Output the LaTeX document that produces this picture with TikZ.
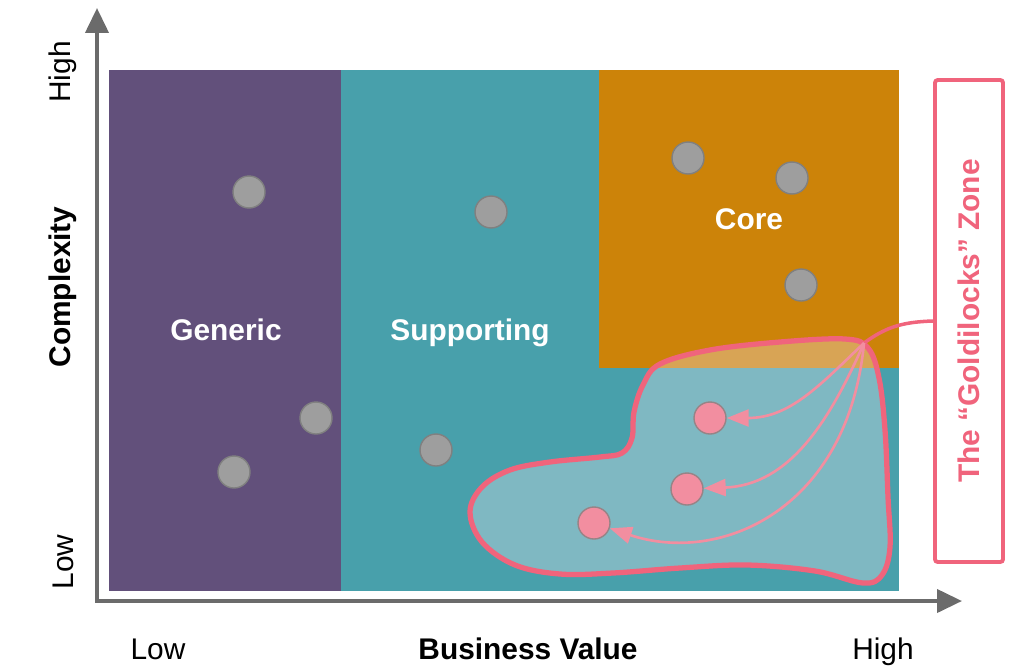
\documentclass[tikz,border=0pt]{standalone}
\usepackage{fontspec}
\setmainfont{Liberation Sans}
\usetikzlibrary{arrows.meta}

\definecolor{genericpurple}{HTML}{62507B}
\definecolor{supportteal}{HTML}{48A0AB}
\definecolor{coreorange}{HTML}{CC8309}
\definecolor{zonepink}{HTML}{F0647C}
\definecolor{dotpink}{HTML}{F28EA0}
\definecolor{dotgray}{HTML}{9E9E9E}
\definecolor{dotedge}{HTML}{808080}
\definecolor{axisgray}{HTML}{6B6B6B}
\definecolor{blobfill}{RGB}{241,234,241}

\begin{document}
\begin{tikzpicture}[x=0.02cm, y=-0.02cm]
				\tikzstyle{every node}=[inner sep=1pt, align=center, font=\fontsize{17}{20}\selectfont]
				\tikzstyle{axistitle}=[font=\fontsize{17}{20}\selectfont\bfseries]
				\tikzstyle{areaname}=[text=white, anchor=base, font=\fontsize{17}{20}\selectfont\bfseries]
				\tikzstyle{dot}=[circle, minimum size=0.64cm, inner sep=0pt, fill=dotgray, draw=dotedge, line width=0.8pt]
				\tikzstyle{hotdot}=[dot, fill=dotpink, draw=dotedge!80!dotpink]
				\tikzstyle{axis}=[draw=axisgray, line width=2.3pt]
				\tikzstyle{pointer}=[draw=dotpink, line width=1.5pt, -{Triangle[length=0.44cm, width=0.34cm]}]
				\useasboundingbox (0,0) rectangle (1023,670);
				% the three areas
				\fill[genericpurple] (109,70) rectangle (341,591);
				\fill[supportteal] (341,70) rectangle (899,591);
				\fill[coreorange] (599,70) rectangle (899,368);
				\node[areaname] (generic) at (226,340) {Generic};
				\node[areaname] (supporting) at (470,340) {Supporting};
				\node[areaname] (core) at (749,229) {Core};
				% axes
				\coordinate (O) at (97,601);
				\coordinate (ytip) at (97,8);
				\coordinate (xtip) at (962,601);
				\draw[axis, {Triangle[length=0.5cm, width=0.46cm]}-{Triangle[length=0.5cm, width=0.46cm]}] (ytip) -- (O) -- (xtip);
				\node[rotate=90] (yhigh) at (63,72) {High};
				\node[rotate=90, axistitle] (ytitle) at (63,287) {Complexity};
				\node[rotate=90] (ylow) at (63,562) {Low};
				\node[anchor=base] (xlow) at (158,659) {Low};
				\node[axistitle, anchor=base] (xtitle) at (528,659) {Business Value};
				\node[anchor=base] (xhigh) at (883,659) {High};
				% subdomains
				\node[dot] (g1) at (249,192) {};
				\node[dot] (g2) at (316,418) {};
				\node[dot] (g3) at (234,472) {};
				\node[dot] (s1) at (491,212) {};
				\node[dot] (s2) at (436,450) {};
				\node[dot] (c1) at (688,158) {};
				\node[dot] (c2) at (792,178) {};
				\node[dot] (c3) at (801,285) {};
				% the zone
				\draw[zonepink, line width=3pt, fill=blobfill, fill opacity=0.33, tension=0.6]
					plot[smooth cycle] coordinates {(470,512) (482,487) (510,470) (550,462) (600,457) (622,453) (632,438) (634,412) (643,385) (660,364) (710,350) (780,342) (845,339) (868,348) (879,378) (885,430) (888,497) (890,547) (882,575) (863,583) (815,571) (747,565) (680,568) (613,573) (560,574) (515,565) (482,542)};
				\node[hotdot] (p1) at (710,418) {};
				\node[hotdot] (p2) at (687,489) {};
				\node[hotdot] (p3) at (594,523) {};
				\node[rotate=90, draw=zonepink, line width=2.2pt, rounded corners=1.5pt, minimum width=9.64cm, minimum height=1.36cm, text=zonepink, axistitle] (zone) at (969,321) {The “Goldilocks” Zone};
				\coordinate (hub) at (864,343);
				\draw[zonepink, line width=2pt] (zone.north) .. controls (900,322) and (885,328) .. (hub);
				\draw[pointer] (hub) .. controls (820,385) and (790,418) .. (p1);
				\draw[pointer] (hub) .. controls (830,420) and (790,485) .. (p2);
				\draw[pointer] (hub) .. controls (848,510) and (720,565) .. (p3);
		\end{tikzpicture}
\end{document}
